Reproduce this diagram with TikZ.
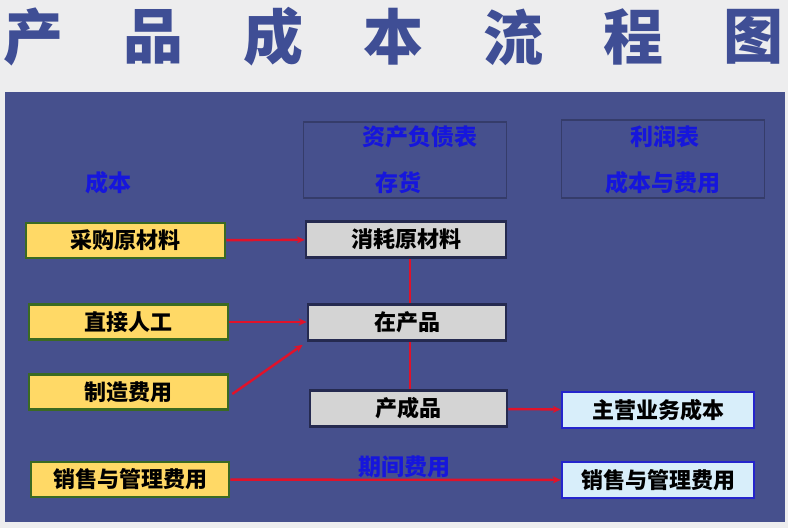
\documentclass[tikz,border=0pt]{standalone}
\usepackage{fontspec}
\setmainfont{Noto Sans CJK SC}
\usepackage{tikz}
\usetikzlibrary{positioning, arrows.meta}

\definecolor{paper}{HTML}{EDEDEE}
\definecolor{panel}{HTML}{46508D}
\definecolor{titleblue}{HTML}{3F4E95}
\definecolor{headblue}{HTML}{1616DC}
\definecolor{costfill}{HTML}{FFD966}
\definecolor{costedge}{HTML}{3B6A22}
\definecolor{stockfill}{HTML}{D4D4D4}
\definecolor{stockedge}{HTML}{252A50}
\definecolor{resfill}{HTML}{D8EEFA}
\definecolor{resedge}{HTML}{2424CC}
\definecolor{flowred}{HTML}{E0122A}

\tikzset{
  costbox/.style={draw=costedge, line width=2.6pt, fill=costfill, minimum height=35pt, font=\fontsize{22}{22}\selectfont\bfseries, text=black},
  stockbox/.style={draw=stockedge, line width=2.6pt, fill=stockfill, minimum height=36pt, font=\fontsize{22}{22}\selectfont\bfseries, text=black},
  resbox/.style={draw=resedge, line width=2.6pt, fill=resfill, minimum width=192pt, minimum height=36pt, font=\fontsize{22}{22}\selectfont\bfseries, text=black},
  headbox/.style={draw=panel!75!black, line width=1.6pt, minimum width=203pt},
  headtext/.style={text=headblue, font=\fontsize{23}{23}\selectfont\bfseries},
  flow/.style={draw=flowred, line width=2.4pt, -{Stealth[length=8pt,width=7pt]}},
  flowline/.style={draw=flowred, line width=2.4pt}
}

\begin{document}
\begin{tikzpicture}[x=1pt, y=-1pt]
  \useasboundingbox (0,0) rectangle (788,528);
  \fill[paper] (0,0) rectangle (788,528);
  \fill[panel] (5,92) rectangle (785,522);

  % title
  \foreach \ch [count=\i from 0] in {产,品,成,本,流,程,图}
    \node[text=titleblue, font=\fontsize{60}{60}\selectfont\bfseries] (title\i) at (33+120*\i, 37) {\ch};

  % headers
  \node[headbox, minimum height=76pt] (balance) at (405,160) {};
  \node[headtext] (balancename) at (420,137) {资产负债表};
  \node[headtext] (stock) at (398,183) {存货};
  \node[headbox, minimum height=78pt] (income) at (663,159) {};
  \node[headtext] (incomename) at (665,137) {利润表};
  \node[headtext] (expense) at (663,183) {成本与费用};
  \node[headtext] (costlabel) at (108,183) {成本};
  \node[headtext] (period) at (404,467) {期间费用};

  % cost inputs
  \node[costbox, minimum width=199pt] (purchase) at (125.5,240.5) {采购原材料};
  \node[costbox, minimum width=199pt] (labour) at (128.5,322) {直接人工};
  \node[costbox, minimum width=199pt] (overhead) at (128.5,392) {制造费用};
  \node[costbox, minimum width=198pt] (selling) at (130,479.5) {销售与管理费用};

  % stock
  \node[stockbox, minimum width=200pt] (consume) at (406,239.5) {消耗原材料};
  \node[stockbox, minimum width=198pt] (wip) at (407,322.5) {在产品};
  \node[stockbox, minimum width=197pt] (finished) at (408.5,408.5) {产成品};

  % income statement
  \node[resbox] (sales) at (658,410) {主营业务成本};
  \node[resbox] (admin) at (658,480) {销售与管理费用};

  % flows
  \coordinate (spine) at (410,0);
  \draw[flow] (purchase) -- (consume);
  \draw[flow] (labour) -- (wip.west |- labour);
  \draw[flow] ([xshift=3pt,yshift=-2pt]overhead.east) -- ([xshift=-4pt,yshift=-3pt]wip.south west);
  \draw[flowline] (consume.south -| spine) -- (wip.north -| spine);
  \draw[flowline] (wip.south -| spine) -- (finished.north -| spine);
  \draw[flow] (finished) -- (sales);
  \draw[flow] (selling) -- (admin);
\end{tikzpicture}
\end{document}
